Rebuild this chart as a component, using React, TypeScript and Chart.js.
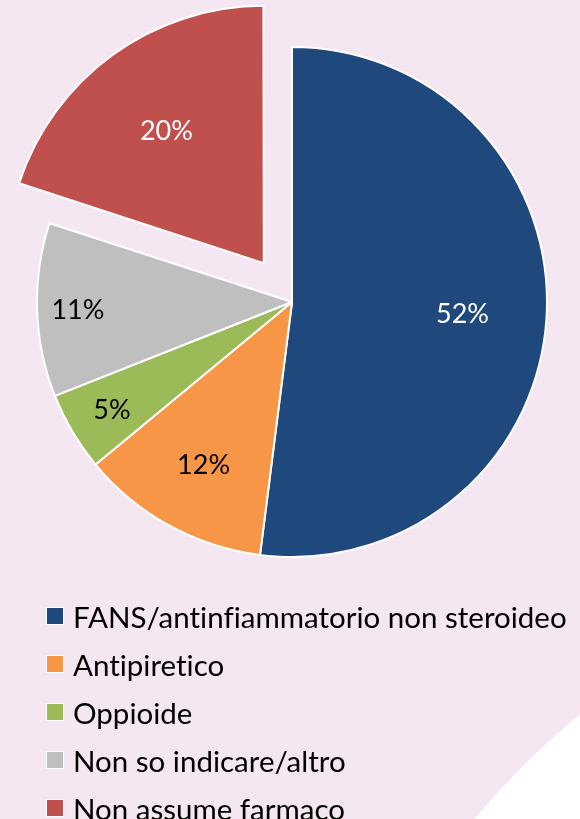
import React, { useEffect, useRef } from "react";
import { Chart, registerables } from "chart.js";

Chart.register(...registerables);

const categories = [
  "FANS/antinfiammatorio non steroideo",
  "Antipiretico",
  "Oppioide",
  "Non so indicare/altro",
  "Non assume farmaco",
];
const values = [52, 12, 5, 11, 20];
const colors = ["#1F497D", "#F79646", "#9BBB59", "#BFBFBF", "#C0504D"];
const labelColors = ["#FFFFFF", "#000000", "#000000", "#000000", "#FFFFFF"];
const labelRadius = [0.67, 0.72, 0.82, 0.84, 0.65];
const offsets = [0, 0, 0, 0, 192];

const FONT = "Lato, 'Open Sans', sans-serif";

const bgPlugin = {
  id: "bgPlugin",
  beforeDraw(chart: any) {
    const ctx = chart.ctx;
    ctx.save();
    ctx.fillStyle = "#F5E7F2";
    ctx.fillRect(0, 0, chart.width, chart.height);
    ctx.fillStyle = "#FFFFFF";
    ctx.beginPath();
    ctx.arc(1065, 1310, 768, 0, Math.PI * 2);
    ctx.fill();
    ctx.restore();
  },
};

const labelPlugin = {
  id: "labelPlugin",
  afterDatasetsDraw(chart: any) {
    const ctx = chart.ctx;
    const meta = chart.getDatasetMeta(0);
    const ds = chart.data.datasets[0];
    const total = ds.data.reduce((a: number, b: number) => a + b, 0);
    ctx.save();
    ctx.font = `27px ${FONT}`;
    ctx.textAlign = "center";
    ctx.textBaseline = "middle";
    meta.data.forEach((arc: any, i: number) => {
      const { x, y, startAngle, endAngle, outerRadius } = arc.getProps(
        ["x", "y", "startAngle", "endAngle", "outerRadius"],
        true
      );
      const mid = (startAngle + endAngle) / 2;
      const off = (offsets[i] || 0) / 4;
      const r = outerRadius * labelRadius[i];
      const lx = x + Math.cos(mid) * (r + off);
      const ly = y + Math.sin(mid) * (r + off) + 2;
      ctx.fillStyle = labelColors[i];
      const pct = Math.round((ds.data[i] / total) * 100);
      ctx.fillText(pct + "%", lx, ly);
    });
    ctx.restore();
  },
};

export default function App() {
  const ref = useRef<HTMLCanvasElement | null>(null);

  useEffect(() => {
    document.body.style.margin = "0";
    const canvas = ref.current;
    if (!canvas) return;
    const chart = new Chart(canvas, {
      type: "pie",
      data: {
        labels: categories,
        datasets: [
          {
            data: values,
            backgroundColor: colors,
            borderColor: "#FFFFFF",
            borderWidth: 2,
            offset: offsets,
          },
        ],
      },
      options: {
        animation: false,
        responsive: false,
        radius: 255,
        layout: { padding: { left: 4, right: 0, top: 0, bottom: 215 } },
        plugins: {
          legend: { display: false },
          tooltip: { enabled: false },
        },
      },
      plugins: [bgPlugin, labelPlugin],
    } as any);
    return () => chart.destroy();
  }, []);

  return (
    <div style={{ position: "relative", width: 580, height: 819, overflow: "hidden" }}>
      <canvas ref={ref} width={580} height={819} style={{ position: "absolute", left: 0, top: 0 }} />
      <div
        style={{
          position: "absolute",
          left: 46,
          top: 592,
          fontFamily: FONT,
          fontSize: 29.5,
          color: "#000000",
          fontVariantLigatures: "none",
          fontFeatureSettings: '"liga" 0, "dlig" 0',
        }}
      >
        {categories.map((c, i) => (
          <div key={c} style={{ display: "flex", alignItems: "center", height: 48, whiteSpace: "nowrap" }}>
            <span
              style={{
                display: "inline-block",
                width: 16,
                height: 16,
                background: colors[i],
                border: "1px solid #FFFFFF",
                marginRight: 9,
              }}
            />
            <span>{c}</span>
          </div>
        ))}
      </div>
    </div>
  );
}
